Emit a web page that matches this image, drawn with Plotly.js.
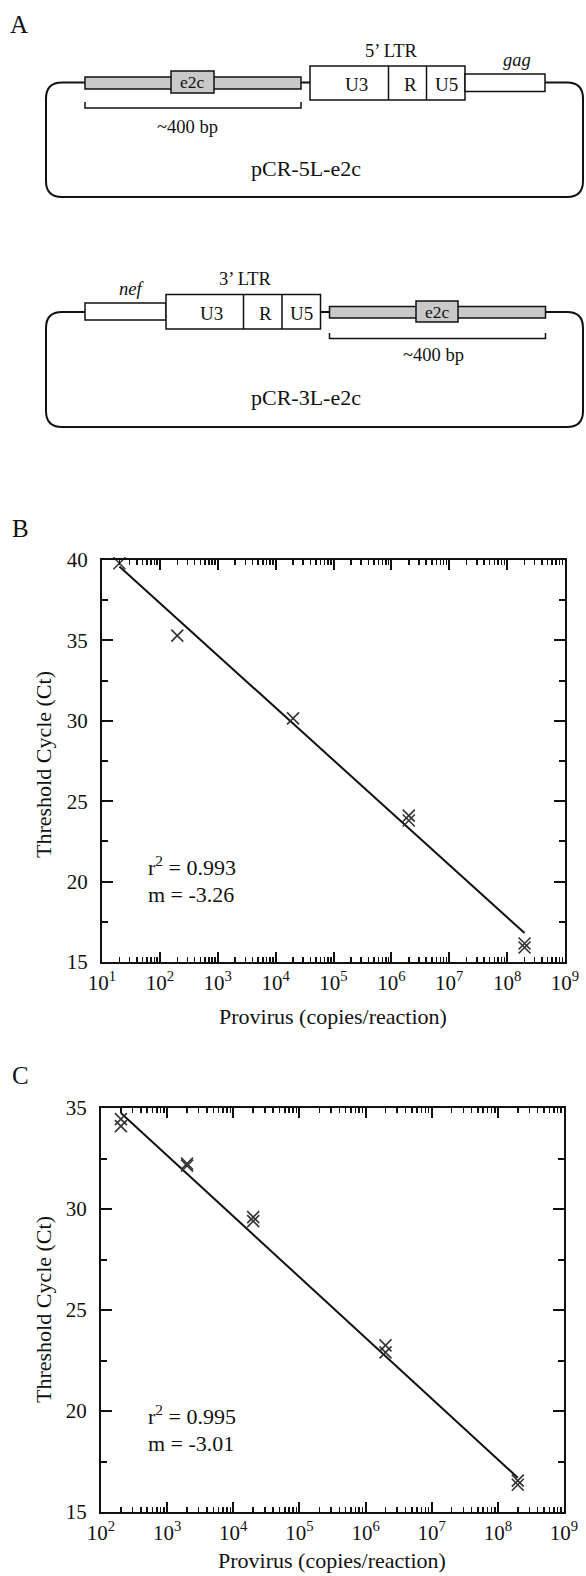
<!DOCTYPE html>
<html>
<head>
<meta charset="utf-8">
<script src="https://cdn.plot.ly/plotly-3.0.1.min.js"></script>
<style>
  html, body { margin: 0; padding: 0; background: #fff; }
  #chart { width: 586px; height: 1576px; }
</style>
</head>
<body>
<div id="chart"></div>
<script>
// ---------------- DATA ----------------
// Panel B: standard curve, pCR-5L-e2c
const bCopies = [2e1, 2e2, 2e4, 2e6, 2e6, 2e8, 2e8];
const bCt     = [39.8, 35.3, 30.15, 24.1, 23.8, 16.15, 15.9];
const bFitCopies = [2e1, 2e8];
const bFitCt     = [39.6, 16.8];
const bStats = ['r<sup>2</sup> = 0.993', 'm = -3.26'];

// Panel C: standard curve, pCR-3L-e2c
const cCopies = [2e2, 2e2, 2e3, 2e3, 2e4, 2e4, 2e6, 2e6, 2e8, 2e8];
const cCt     = [34.45, 34.1, 32.25, 32.15, 29.6, 29.4, 23.25, 22.9, 16.55, 16.35];
const cFitCopies = [2e2, 2e8];
const cFitCt     = [34.75, 16.7];
const cStats = ['r<sup>2</sup> = 0.995', 'm = -3.01'];

// Axis ticks
const bDecades = [1e1, 1e2, 1e3, 1e4, 1e5, 1e6, 1e7, 1e8, 1e9];
const bDecadeText = ['10<sup>1</sup>','10<sup>2</sup>','10<sup>3</sup>','10<sup>4</sup>','10<sup>5</sup>','10<sup>6</sup>','10<sup>7</sup>','10<sup>8</sup>','10<sup>9</sup>'];
const cDecades = [1e2, 1e3, 1e4, 1e5, 1e6, 1e7, 1e8, 1e9];
const cDecadeText = ['10<sup>2</sup>','10<sup>3</sup>','10<sup>4</sup>','10<sup>5</sup>','10<sup>6</sup>','10<sup>7</sup>','10<sup>8</sup>','10<sup>9</sup>'];
const bCtTicks = [15, 20, 25, 30, 35, 40];
const cCtTicks = [15, 20, 25, 30, 35];

// Panel A labels
const ltrSegments = ['U3', 'R', 'U5'];
const plasmidNames = ['pCR-5L-e2c', 'pCR-3L-e2c'];
const ltrNames = ['5\u2019 LTR', '3\u2019 LTR'];
const fragmentLabel = '~400 bp';
const probeLabel = 'e2c';
const geneLabels = ['gag', 'nef'];
const xTitle = 'Provirus (copies/reaction)';
const yTitle = 'Threshold Cycle (Ct)';
const panelLetters = ['A', 'B', 'C'];

// ---------------- LAYOUT HELPERS ----------------
const W = 586, H = 1576;
const px = v => v / W;
const py = v => 1 - v / H;
const FONT = 'Liberation Serif, Times New Roman, serif';
const INK = '#111';

function minorLog(decades) {
  const out = [];
  for (let i = 0; i < decades.length - 1; i++) {
    for (let k = 2; k <= 9; k++) out.push(decades[i] * k);
  }
  return out;
}

function xAxisCfg(dom, anchor, rangeLog, vals, text) {
  return {
    type: 'log', range: rangeLog, domain: dom, anchor: anchor,
    tickmode: 'array', tickvals: vals, ticktext: text,
    ticks: 'inside', ticklen: 10, tickwidth: 2, tickcolor: INK,
    showline: true, linewidth: 2, linecolor: INK, mirror: 'ticks',
    showgrid: false, zeroline: false, fixedrange: true,
    minor: { tickmode: 'array', tickvals: minorLog(vals), ticks: 'inside', ticklen: 5, tickwidth: 1.5, tickcolor: INK, showgrid: false },
    tickfont: { family: FONT, size: 21, color: INK },
    ticklabelstandoff: 1
  };
}
function yAxisCfg(dom, anchor, range, vals) {
  return {
    range: range, domain: dom, anchor: anchor,
    tickmode: 'array', tickvals: vals,
    ticks: 'inside', ticklen: 11, tickwidth: 2, tickcolor: INK,
    showline: true, linewidth: 2, linecolor: INK, mirror: 'ticks',
    showgrid: false, zeroline: false, fixedrange: true,
    minor: { tick0: 15, dtick: 2.5, ticks: 'inside', ticklen: 6, tickwidth: 2, tickcolor: INK, showgrid: false },
    tickfont: { family: FONT, size: 21, color: INK },
    ticklabelstandoff: 8
  };
}

const markerStyle = { symbol: 'x-thin-open', size: 12, color: '#333', line: { width: 1.6, color: '#333' } };
const lineStyle = { color: INK, width: 2 };

const traces = [
  { x: bFitCopies, y: bFitCt, xaxis: 'x', yaxis: 'y', mode: 'lines', line: lineStyle, hoverinfo: 'skip', showlegend: false },
  { x: bCopies, y: bCt, xaxis: 'x', yaxis: 'y', mode: 'markers', marker: markerStyle, showlegend: false, cliponaxis: false },
  { x: cFitCopies, y: cFitCt, xaxis: 'x2', yaxis: 'y2', mode: 'lines', line: lineStyle, hoverinfo: 'skip', showlegend: false },
  { x: cCopies, y: cCt, xaxis: 'x2', yaxis: 'y2', mode: 'markers', marker: markerStyle, showlegend: false, cliponaxis: false },
  // anchor trace for the diagram axes (panel A)
  { x: [0], y: [0], xaxis: 'x3', yaxis: 'y3', mode: 'markers', marker: { size: 1, opacity: 0 }, hoverinfo: 'skip', showlegend: false }
];

// ---------------- PANEL A SHAPES ----------------
const S = { xref: 'x3', yref: 'y3', layer: 'above' };
const thin = { color: INK, width: 1.5 };
const grey = '#c9c9c9';
function rr(x0, x1, y0, y1, r) {
  return `M ${x0 + r} ${y0} L ${x1 - r} ${y0} Q ${x1} ${y0} ${x1} ${y0 + r} L ${x1} ${y1 - r} Q ${x1} ${y1} ${x1 - r} ${y1} L ${x0 + r} ${y1} Q ${x0} ${y1} ${x0} ${y1 - r} L ${x0} ${y0 + r} Q ${x0} ${y0} ${x0 + r} ${y0} Z`;
}
function rect(x0, x1, y0, y1, fill) {
  return Object.assign({ type: 'rect', x0, x1, y0, y1, fillcolor: fill, line: thin }, S);
}
function seg(x0, y0, x1, y1) {
  return Object.assign({ type: 'line', x0, y0, x1, y1, line: thin }, S);
}
function path(p, w) {
  return Object.assign({ type: 'path', path: p, fillcolor: 'rgba(0,0,0,0)', line: { color: INK, width: w } }, S);
}

const shapes = [
  // plasmid 1
  path(rr(46, 583, 82.5, 197, 16), 2),
  rect(85, 301, 77, 89, grey),
  rect(171, 214, 71, 93, grey),
  rect(310, 465, 66, 100, '#fff'),
  seg(388.5, 66, 388.5, 100),
  seg(426.5, 66, 426.5, 100),
  rect(465, 545, 74, 91.5, '#fff'),
  path('M 85 102 L 85 108 L 301 108 L 301 102', 1.5),
  // plasmid 2
  path(rr(46, 583, 312, 427, 16), 2),
  rect(85, 166, 303, 320, '#fff'),
  rect(166, 320.5, 294.5, 329, '#fff'),
  seg(243.5, 294.5, 243.5, 329),
  seg(282, 294.5, 282, 329),
  rect(329.5, 545.5, 306.5, 318, grey),
  rect(416, 458, 301, 322, grey),
  path('M 329.5 333 L 329.5 338.5 L 545.5 338.5 L 545.5 333', 1.5)
];

// ---------------- ANNOTATIONS ----------------
function txt(t, x, y, size, extra) {
  return Object.assign({ text: t, x, y, xref: 'x3', yref: 'y3', showarrow: false, xanchor: 'center', yanchor: 'middle',
    font: { family: FONT, size: size, color: INK } }, extra || {});
}
function ptxt(t, x, y, size, extra) {
  return Object.assign({ text: t, x: px(x), y: py(y), xref: 'paper', yref: 'paper', showarrow: false,
    font: { family: FONT, size: size, color: INK } }, extra || {});
}

const annotations = [
  // panel letters
  ptxt(panelLetters[0], 8, 24, 25, { xanchor: 'left', yanchor: 'middle' }),
  ptxt(panelLetters[1], 10, 528, 25, { xanchor: 'left', yanchor: 'middle' }),
  ptxt(panelLetters[2], 10, 1075, 25, { xanchor: 'left', yanchor: 'middle' }),
  // plasmid 1 labels
  txt(ltrNames[0], 391, 51, 18.5),
  txt('<i>' + geneLabels[0] + '</i>', 517, 60, 18.5),
  txt(probeLabel, 192.5, 82, 17.5),
  txt(ltrSegments[0], 356, 84, 19),
  txt(ltrSegments[1], 410, 84, 19),
  txt(ltrSegments[2], 446, 84, 19),
  txt(fragmentLabel, 187, 127, 18.5),
  txt(plasmidNames[0], 306, 168, 22),
  // plasmid 2 labels
  txt(ltrNames[1], 245, 279, 18.5),
  txt('<i>' + geneLabels[1] + '</i>', 131, 289, 18.5),
  txt(ltrSegments[0], 211, 313, 19),
  txt(ltrSegments[1], 265, 313, 19),
  txt(ltrSegments[2], 301, 313, 19),
  txt(probeLabel, 437, 311.5, 17.5),
  txt(fragmentLabel, 433, 355, 18.5),
  txt(plasmidNames[1], 306, 397, 22),
  // panel B stats and titles
  ptxt(bStats[0], 146, 866, 22, { xanchor: 'left', yanchor: 'middle' }),
  ptxt(bStats[1], 146, 894, 22, { xanchor: 'left', yanchor: 'middle' }),
  ptxt(xTitle, 333, 1016, 22, { xanchor: 'center', yanchor: 'middle' }),
  ptxt(yTitle, 43, 765, 22, { xanchor: 'center', yanchor: 'middle', textangle: -90 }),
  // panel C stats and titles
  ptxt(cStats[0], 146, 1415, 22, { xanchor: 'left', yanchor: 'middle' }),
  ptxt(cStats[1], 146, 1443, 22, { xanchor: 'left', yanchor: 'middle' }),
  ptxt(xTitle, 332, 1560, 22, { xanchor: 'center', yanchor: 'middle' }),
  ptxt(yTitle, 43, 1310, 22, { xanchor: 'center', yanchor: 'middle', textangle: -90 })
];

const layout = {
  width: W, height: H,
  margin: { l: 0, r: 0, t: 0, b: 0, pad: 0 },
  paper_bgcolor: '#fff', plot_bgcolor: 'rgba(0,0,0,0)',
  showlegend: false,
  font: { family: FONT, color: INK },
  xaxis: xAxisCfg([px(102), px(565)], 'y', [1, 9], bDecades, bDecadeText),
  yaxis: yAxisCfg([py(962), py(560)], 'x', [15, 40], bCtTicks),
  xaxis2: xAxisCfg([px(101), px(564)], 'y2', [2, 9], cDecades, cDecadeText),
  yaxis2: yAxisCfg([py(1512), py(1108)], 'x2', [15, 35], cCtTicks),
  xaxis3: { domain: [0, 1], range: [0, W], anchor: 'y3', visible: false, fixedrange: true },
  yaxis3: { domain: [py(440), 1], range: [440, 0], anchor: 'x3', visible: false, fixedrange: true },
  shapes: shapes,
  annotations: annotations
};

Plotly.newPlot('chart', traces, layout, { staticPlot: true, displayModeBar: false }).then(function (gd) {
  // make each text's size explicit as an attribute too (rendering is unchanged)
  gd.querySelectorAll('text').forEach(function (t) {
    const fs = window.getComputedStyle(t).fontSize;
    if (fs) t.setAttribute('font-size', fs);
  });
});
</script>
</body>
</html>
